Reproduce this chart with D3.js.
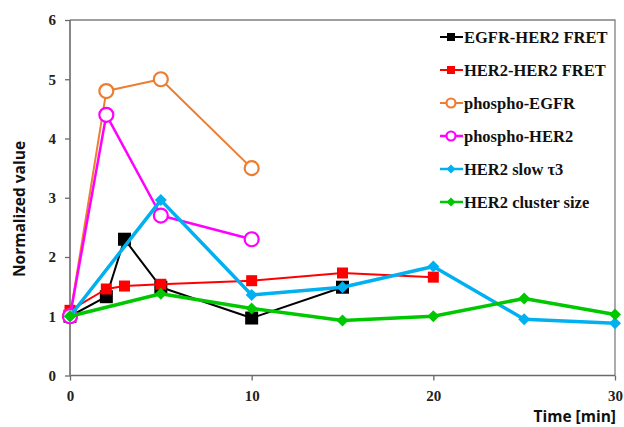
<!DOCTYPE html>
<html>
<head>
<meta charset="utf-8">
<script src="https://cdn.jsdelivr.net/npm/d3@7"></script>
<style>
  html, body { margin: 0; padding: 0; background: #fff; }
  svg { display: block; }
</style>
</head>
<body>
<svg id="chart" width="624" height="427"></svg>
<script>
// ---- data ----
const seriesNames = ["EGFR-HER2 FRET", "HER2-HER2 FRET", "phospho-EGFR", "phospho-HER2", "HER2 slow τ3", "HER2 cluster size"];
const egfrHer2Fret = [[0, 1.0], [2, 1.33], [3, 2.30], [5, 1.49], [10, 0.97], [15, 1.49]];
const her2Her2Fret = [[0, 1.10], [2, 1.46], [3, 1.51], [5, 1.54], [10, 1.60], [15, 1.73], [20, 1.66]];
const phosphoEgfr = [[0, 1.0], [2, 4.80], [5, 5.0], [10, 3.50]];
const phosphoHer2 = [[0, 1.0], [2, 4.40], [5, 2.70], [10, 2.30]];
const her2SlowTau3 = [[0, 1.0], [5, 2.96], [10, 1.36], [15, 1.49], [20, 1.84], [25, 0.95], [30, 0.88]];
const her2ClusterSize = [[0, 1.0], [5, 1.38], [10, 1.13], [15, 0.93], [20, 1.0], [25, 1.30], [30, 1.03]];
const xTicks = [0, 10, 20, 30];
const yTicks = [0, 1, 2, 3, 4, 5, 6];
const xTitle = "Time [min]";
const yTitle = "Normalized value";

// ---- styles ----
const styles = [
  { color: "#000000", width: 2, marker: "square", size: 13 },
  { color: "#ff0000", width: 2, marker: "square", size: 11 },
  { color: "#ed7d31", width: 2, marker: "circle", size: 7 },
  { color: "#ff00ff", width: 2.5, marker: "circle", size: 7 },
  { color: "#00b0f0", width: 3.5, marker: "diamond", size: 6 },
  { color: "#00c800", width: 3.5, marker: "diamond", size: 6 }
];
const allData = [egfrHer2Fret, her2Her2Fret, phosphoEgfr, phosphoHer2, her2SlowTau3, her2ClusterSize];

const svg = d3.select("#chart");
const L = 70, R = 615, T = 20, B = 375.5;
const x = d3.scaleLinear().domain([0, 30]).range([L, R]);
const y = d3.scaleLinear().domain([0, 6]).range([B, T]);

const serif = "'Liberation Serif', 'DejaVu Serif', serif";
const sans = "'Open Sans', 'Liberation Sans', sans-serif";

// frame (top & right)
svg.append("path")
  .attr("d", `M${L},${T}H${R}V${B}`)
  .attr("fill", "none").attr("stroke", "#808080").attr("stroke-width", 1.3);

// axes
const xAxis = svg.append("g").attr("transform", `translate(0,${B})`)
  .call(d3.axisBottom(x).tickValues(xTicks).tickSize(5).tickPadding(10).tickFormat(d3.format("d")));
const yAxis = svg.append("g").attr("transform", `translate(${L},0)`)
  .call(d3.axisLeft(y).tickValues(yTicks).tickSize(5).tickPadding(9).tickFormat(d3.format("d")));
[xAxis, yAxis].forEach(g => {
  g.select(".domain").attr("stroke", "#6a6a6a").attr("stroke-width", 1.6);
  g.selectAll(".tick line").attr("stroke", "#6a6a6a").attr("stroke-width", 1.3);
  g.selectAll(".tick text").attr("fill", "#222").attr("font-family", serif)
    .attr("font-weight", "bold").attr("font-size", 15);
});
xAxis.select(".domain").attr("d", `M${L},0H${R}`);
yAxis.select(".domain").attr("d", `M0,${B}V${T}`);

// axis titles
svg.append("text").attr("x", 616).attr("y", 422).attr("text-anchor", "end")
  .attr("font-family", sans).attr("font-weight", "bold").attr("font-size", 15.5)
  .attr("fill", "#111").text(xTitle);
svg.append("text").attr("transform", "translate(25,209) rotate(-90)").attr("text-anchor", "middle")
  .attr("font-family", sans).attr("font-weight", "bold").attr("font-size", 15.5)
  .attr("fill", "#111").text(yTitle);

function drawMarker(g, st, cx, cy) {
  if (st.marker === "square") {
    g.append("rect").attr("x", cx - st.size / 2).attr("y", cy - st.size / 2)
      .attr("width", st.size).attr("height", st.size).attr("fill", st.color);
  } else if (st.marker === "circle") {
    g.append("circle").attr("cx", cx).attr("cy", cy).attr("r", st.size)
      .attr("fill", "#fff").attr("stroke", st.color).attr("stroke-width", 2.2);
  } else {
    const s = st.size;
    g.append("path").attr("d", `M${cx},${cy - s}L${cx + s},${cy}L${cx},${cy + s}L${cx - s},${cy}Z`)
      .attr("fill", st.color);
  }
}

const line = d3.line().x(d => x(d[0])).y(d => y(d[1]));
allData.forEach((data, i) => {
  const st = styles[i];
  const g = svg.append("g");
  g.append("path").datum(data).attr("d", line).attr("fill", "none")
    .attr("stroke", st.color).attr("stroke-width", st.width).attr("stroke-linejoin", "round");
  data.forEach(d => drawMarker(g, st, x(d[0]), y(d[1])));
});

// legend
const lg = svg.append("g");
seriesNames.forEach((name, i) => {
  const st = styles[i];
  const cy = 37 + i * 33;
  const ms = { ...st, size: st.marker === "square" ? 8 : st.marker === "circle" ? 4.5 : 4.5 };
  lg.append("line").attr("x1", 440).attr("x2", 463).attr("y1", cy).attr("y2", cy)
    .attr("stroke", st.color).attr("stroke-width", Math.min(st.width, 2.5));
  drawMarker(lg, ms, 451, cy);
  lg.append("text").attr("x", 464).attr("y", cy + 5.5)
    .attr("font-family", serif).attr("font-weight", "bold").attr("font-size", 16.5)
    .attr("fill", "#111").text(name);
});
</script>
</body>
</html>
